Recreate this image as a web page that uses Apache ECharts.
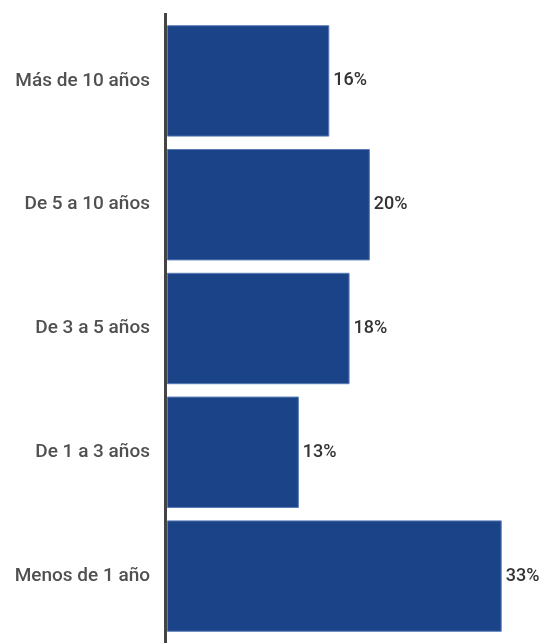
<!DOCTYPE html>
<html>
<head>
<meta charset="utf-8">
<script src="https://cdn.jsdelivr.net/npm/echarts@6/dist/echarts.min.js"></script>
<style>
html, body { margin: 0; padding: 0; background: #fff; }
#chart { width: 541px; height: 643px; }
</style>
</head>
<body>
<div id="chart"></div>
<script>
// Tenure groups, listed bottom to top
const categories = ['Menos de 1 año', 'De 1 a 3 años', 'De 3 a 5 años', 'De 5 a 10 años', 'Más de 10 años'];
const shares = [33, 13, 18, 20, 16];

const chart = echarts.init(document.getElementById('chart'), null, { renderer: 'canvas' });

chart.setOption({
  animation: false,
  grid: { left: 167, top: 19, width: 355, height: 619, containLabel: false },
  xAxis: {
    type: 'value',
    min: 0,
    max: 35,
    show: false
  },
  yAxis: {
    type: 'category',
    data: categories,
    axisLine: { show: false },
    axisTick: { show: false },
    axisLabel: {
      margin: 17,
      fontFamily: 'Roboto',
      fontWeight: 500,
      fontSize: 19,
      color: '#505050'
    }
  },
  graphic: [{
    type: 'line',
    shape: { x1: 165.5, y1: 13, x2: 165.5, y2: 643 },
    style: { stroke: '#444', lineWidth: 3 },
    z: 100
  }],
  series: [{
    type: 'bar',
    data: shares,
    barCategoryGap: '10%',
    itemStyle: { color: '#1b4488', borderColor: '#5a7db8', borderWidth: 1 },
    label: {
      show: true,
      position: 'right',
      distance: 4,
      formatter: '{c}%',
      fontFamily: 'Roboto',
      fontWeight: 500,
      fontSize: 18,
      color: '#333'
    }
  }]
});
</script>
</body>
</html>
